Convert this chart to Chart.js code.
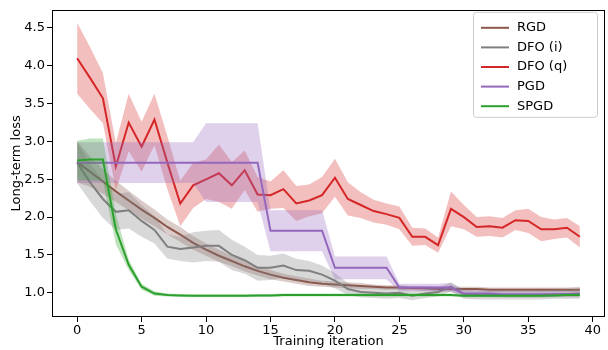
<!DOCTYPE html>
<html>
<head>
<meta charset="utf-8">
<script src="https://cdn.jsdelivr.net/npm/chart.js@4.4.0/dist/chart.umd.min.js"></script>
<style>
html, body { margin: 0; padding: 0; background: #fff; }
</style>
</head>
<body>
<canvas id="myChart" width="608" height="350"></canvas>
<script>
// x 轴：训练迭代次数
var iterations = [0, 1, 2, 3, 4, 5, 6, 7, 8, 9, 10, 11, 12, 13, 14, 15, 16, 17, 18, 19,
    20, 21, 22, 23, 24, 25, 26, 27, 28, 29, 30, 31, 32, 33, 34, 35, 36, 37, 38, 39];
var xTicks = [0, 5, 10, 15, 20, 25, 30, 35, 40];
var yTicks = [1.0, 1.5, 2.0, 2.5, 3.0, 3.5, 4.0, 4.5];

var labels = ['RGD', 'DFO (i)', 'DFO (q)', 'PGD', 'SPGD'];

// RGD
var rgdMean = [2.73, 2.60, 2.47, 2.34, 2.22, 2.10, 1.99, 1.87, 1.77, 1.66, 1.57, 1.49, 1.42, 1.35, 1.29, 1.24, 1.20, 1.17, 1.14, 1.12,
    1.11, 1.10, 1.09, 1.08, 1.07, 1.07, 1.06, 1.06, 1.05, 1.05, 1.05, 1.05, 1.04, 1.04, 1.04, 1.04, 1.04, 1.04, 1.04, 1.04];
var rgdStd = [0.27, 0.20, 0.16, 0.14, 0.13, 0.12, 0.11, 0.10, 0.10, 0.09, 0.08, 0.08, 0.07, 0.07, 0.06, 0.06, 0.05, 0.05, 0.05, 0.04,
    0.04, 0.04, 0.04, 0.03, 0.03, 0.03, 0.03, 0.03, 0.03, 0.03, 0.03, 0.03, 0.03, 0.03, 0.03, 0.03, 0.03, 0.03, 0.03, 0.04];
// DFO (i)
var dfoiMean = [2.72, 2.46, 2.24, 2.07, 2.09, 1.95, 1.83, 1.61, 1.58, 1.60, 1.62, 1.62, 1.50, 1.43, 1.33, 1.33, 1.36, 1.30, 1.29, 1.24,
    1.16, 1.05, 1.01, 1.00, 0.99, 1.00, 0.96, 0.99, 1.01, 1.08, 0.98, 0.97, 0.97, 0.97, 0.97, 0.97, 0.97, 0.98, 0.98, 0.99];
var dfoiStd = [0.27, 0.25, 0.25, 0.24, 0.24, 0.21, 0.18, 0.16, 0.16, 0.20, 0.20, 0.21, 0.20, 0.18, 0.17, 0.16, 0.16, 0.15, 0.13, 0.12,
    0.10, 0.08, 0.07, 0.07, 0.07, 0.07, 0.06, 0.06, 0.06, 0.06, 0.06, 0.06, 0.06, 0.06, 0.06, 0.06, 0.06, 0.06, 0.06, 0.07];
// DFO (q)
var dfoqMean = [4.10, 3.84, 3.57, 2.67, 3.25, 2.93, 3.29, 2.72, 2.18, 2.42, 2.50, 2.58, 2.42, 2.62, 2.30, 2.29, 2.37, 2.18, 2.22, 2.29,
    2.52, 2.24, 2.16, 2.08, 2.04, 1.99, 1.74, 1.74, 1.63, 2.11, 2.00, 1.87, 1.88, 1.86, 1.96, 1.95, 1.84, 1.84, 1.86, 1.74];
var dfoqStd = [0.47, 0.41, 0.33, 0.31, 0.38, 0.33, 0.34, 0.35, 0.30, 0.30, 0.26, 0.38, 0.31, 0.26, 0.23, 0.18, 0.25, 0.23, 0.21, 0.24,
    0.25, 0.22, 0.17, 0.15, 0.14, 0.15, 0.12, 0.11, 0.10, 0.23, 0.16, 0.13, 0.13, 0.13, 0.13, 0.16, 0.16, 0.13, 0.13, 0.14];
// PGD
var pgdMean = [2.72, 2.72, 2.72, 2.72, 2.72, 2.72, 2.72, 2.72, 2.72, 2.72, 2.72, 2.72, 2.72, 2.72, 2.72, 1.82, 1.82, 1.82, 1.82, 1.82,
    1.33, 1.33, 1.33, 1.33, 1.33, 1.07, 1.07, 1.07, 1.07, 1.07, 0.99, 0.99, 0.99, 0.98, 0.98, 0.98, 0.98, 0.98, 0.98, 0.98];
var pgdStd = [0.27, 0.27, 0.27, 0.27, 0.27, 0.27, 0.27, 0.27, 0.27, 0.27, 0.52, 0.52, 0.52, 0.52, 0.52, 0.27, 0.27, 0.27, 0.27, 0.27,
    0.15, 0.15, 0.15, 0.15, 0.15, 0.05, 0.05, 0.05, 0.05, 0.06, 0.04, 0.04, 0.04, 0.04, 0.04, 0.04, 0.04, 0.04, 0.04, 0.04];
// SPGD
var spgdMean = [2.75, 2.76, 2.76, 1.84, 1.37, 1.08, 0.99, 0.97, 0.965, 0.96, 0.96, 0.96, 0.96, 0.96, 0.965, 0.965, 0.97, 0.97, 0.97, 0.97,
    0.97, 0.97, 0.97, 0.97, 0.97, 0.97, 0.97, 0.97, 0.97, 0.97, 0.96, 0.96, 0.96, 0.96, 0.96, 0.96, 0.96, 0.965, 0.97, 0.97];
var spgdStd = [0.26, 0.28, 0.28, 0.20, 0.07, 0.04, 0.03, 0.02, 0.02, 0.02, 0.02, 0.02, 0.02, 0.02, 0.02, 0.02, 0.02, 0.02, 0.02, 0.02,
    0.02, 0.02, 0.02, 0.02, 0.02, 0.02, 0.02, 0.02, 0.02, 0.02, 0.02, 0.02, 0.02, 0.02, 0.02, 0.02, 0.02, 0.02, 0.02, 0.02];

var colors = ['#8c564b', '#7f7f7f', '#d62728', '#9467bd', '#2ca02c'];
var bandColors = ['rgba(140,86,75,0.3)', 'rgba(127,127,127,0.3)', 'rgba(214,39,40,0.3)', 'rgba(148,103,189,0.3)', 'rgba(44,160,44,0.3)'];

var FONT = { family: 'DejaVu Sans', size: 13 };

function toPoints(arr) {
    return arr.map((v, i) => ({ x: iterations[i], y: v }));
}

var datasets = [];
function addSeries(k, mean, std) {
    //先画阴影，再画线
    let base = (labels.length - k) * 10;
    datasets.push({
        label: labels[k] + '_lo', band: true,
        data: toPoints(mean.map((v, i) => v - std[i])),
        borderWidth: 0, pointRadius: 0, fill: false, order: base + 2
    });
    datasets.push({
        label: labels[k] + '_hi', band: true,
        data: toPoints(mean.map((v, i) => v + std[i])),
        borderWidth: 0, pointRadius: 0, fill: '-1', backgroundColor: bandColors[k], order: base + 1
    });
    datasets.push({
        label: labels[k],
        data: toPoints(mean),
        borderColor: colors[k], borderWidth: 2, pointRadius: 0, fill: false, order: base
    });
}
addSeries(0, rgdMean, rgdStd);
addSeries(1, dfoiMean, dfoiStd);
addSeries(2, dfoqMean, dfoqStd);
addSeries(3, pgdMean, pgdStd);
addSeries(4, spgdMean, spgdStd);

//坐标框
var framePlugin = {
    id: 'frame',
    afterDatasetsDraw(chart) {
        let a = chart.chartArea, c = chart.ctx;
        c.save();
        c.strokeStyle = '#000';
        c.lineWidth = 1;
        c.strokeRect(Math.round(a.left) + 0.5, Math.round(a.top) + 0.5,
            Math.round(a.right - a.left) - 1, Math.round(a.bottom - a.top) - 1);
        c.restore();
    }
};

//图例（右上角带框）
var legendPlugin = {
    id: 'boxLegend',
    afterDraw(chart) {
        let a = chart.chartArea, c = chart.ctx;
        let w = 124, h = 105;
        let x0 = a.right - 8 - w, y0 = a.top + 2;
        c.save();
        c.fillStyle = 'rgba(255,255,255,0.8)';
        c.strokeStyle = '#cccccc';
        c.lineWidth = 1;
        c.beginPath();
        c.roundRect(x0 + 0.5, y0 + 0.5, w, h, 3);
        c.fill();
        c.stroke();
        c.font = '13px "DejaVu Sans"';
        c.textBaseline = 'middle';
        c.fillStyle = '#000';
        labels.forEach((lab, k) => {
            let y = y0 + 16 + k * 19.6;
            c.strokeStyle = colors[k];
            c.lineWidth = 2;
            c.beginPath();
            c.moveTo(x0 + 8, y);
            c.lineTo(x0 + 36, y);
            c.stroke();
            c.fillText(lab, x0 + 44, y);
        });
        c.restore();
    }
};

var ctx = document.getElementById('myChart').getContext('2d');
var myChart = new Chart(ctx, {
    type: 'line',
    data: { datasets: datasets },
    plugins: [framePlugin, legendPlugin],
    options: {
        responsive: false,
        animation: false,
        devicePixelRatio: 1,
        layout: { padding: { top: 6, right: 3, left: 0, bottom: 0 } },
        plugins: { legend: { display: false }, tooltip: { enabled: false } },
        elements: { line: { tension: 0 } },
        scales: {
            x: {
                type: 'linear', min: -1.95, max: 40.95,
                afterBuildTicks: s => { s.ticks = xTicks.map(v => ({ value: v })); },
                afterFit: s => { s.height = 33; },
                grid: { display: true, drawOnChartArea: false, drawTicks: true, tickLength: 5, color: '#000' },
                border: { display: false },
                ticks: { color: '#000', font: FONT, padding: 1, maxRotation: 0, callback: v => v },
                title: { display: true, text: 'Training iteration', color: '#000', font: FONT, padding: { top: 0, bottom: 1 } }
            },
            y: {
                type: 'linear', min: 0.68, max: 4.74,
                afterBuildTicks: s => { s.ticks = yTicks.map(v => ({ value: v })); },
                afterFit: s => { s.width = 52; },
                grid: { display: true, drawOnChartArea: false, drawTicks: true, tickLength: 5, color: '#000' },
                border: { display: false },
                ticks: { color: '#000', font: FONT, padding: 2, callback: v => v.toFixed(1) },
                title: { display: true, text: 'Long-term loss', color: '#000', font: FONT, padding: { top: 9, bottom: 0 } }
            }
        }
    }
});
</script>
</body>
</html>
